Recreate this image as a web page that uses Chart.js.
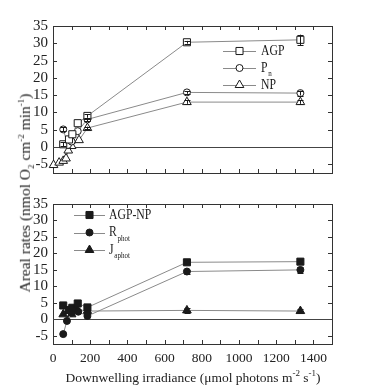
<!DOCTYPE html>
<html><head><meta charset="utf-8">
<script src="https://cdn.jsdelivr.net/npm/chart.js@4/dist/chart.umd.min.js"></script>
<style>
html,body{margin:0;padding:0;background:#fff;}
#wrap{position:relative;width:367px;height:386px;overflow:hidden;font-family:"Liberation Serif",serif;color:#222;}
.cv{position:absolute;left:0;}
#ytitle{position:absolute;left:26px;top:193px;transform:translate(-50%,-50%) rotate(-90deg);white-space:nowrap;font-size:15.5px;}
#xtitle{position:absolute;left:193px;top:377px;transform:translate(-50%,-50%);white-space:nowrap;font-size:13.5px;}
sub,sup{font-size:9px;}
</style></head>
<body>
<div id="wrap">
<canvas id="c1" class="cv" width="367" height="190" style="top:0"></canvas>
<canvas id="c2" class="cv" width="367" height="196" style="top:190px"></canvas>
<div id="ytitle">Areal rates (nmol O<sub>2</sub> cm<sup>-2</sup> min<sup>-1</sup>)</div>
<div id="xtitle">Downwelling irradiance (μmol photons m<sup>-2</sup> s<sup>-1</sup>)</div>
</div>
<script>
// ---- data ----
const xTickLabels = [0, 200, 400, 600, 800, 1000, 1200, 1400];
const xMinorTicks = [0,100,200,300,400,500,600,700,800,900,1000,1100,1200,1300,1400,1500];
const yTicks = [-5, 0, 5, 10, 15, 20, 25, 30, 35];

// top panel
const agpX = [55, 86, 104, 133, 185, 720, 1330];
const agpY = [0.8, 2.2, 3.7, 6.9, 9.0, 30.3, 31.0];
const agpErr = [0.6, 0, 0, 0, 0.5, 0.4, 1.5];
const pnX = [55, 80, 100, 133, 185, 720, 1330];
const pnY = [5.1, 0.6, 1.6, 4.6, 8.0, 15.8, 15.6];
const pnErr = [0.6, 0, 0, 0, 0.5, 0.4, 0.7];
const npX = [3, 33, 55, 70, 82, 100, 140, 185, 720, 1330];
const npY = [-5.2, -4.5, -4.0, -3.3, -1.0, 0.3, 2.0, 5.5, 13.0, 13.0];
const npErr = [0, 0, 0, 0, 0, 0, 0, 0.4, 0.5, 0.5];

// bottom panel
const agpnpX = [55, 85, 104, 133, 185, 720, 1330];
const agpnpY = [4.2, 2.8, 3.5, 4.8, 3.6, 17.3, 17.5];
const agpnpErr = [0, 0, 0, 0, 0, 0.4, 0.6];
const rphotX = [55, 75, 100, 136, 185, 720, 1330];
const rphotY = [-4.5, -0.5, 2.0, 2.3, 1.0, 14.5, 15.0];
const rphotErr = [0, 0, 0, 0, 0, 0.6, 1.0];
const japhotX = [55, 85, 100, 130, 185, 720, 1330];
const japhotY = [1.5, 2.6, 1.5, 3.0, 2.5, 2.7, 2.5];
const japhotErr = [0, 0, 0, 0, 0, 0.7, 0.5];

const FONT = "'Liberation Serif', 'Times New Roman', serif";
const INK = '#1a1a1a';
const LINE = '#8a8a8a';

function pts(xs, ys){ return xs.map((x,i)=>({x:x, y:ys[i]})); }
function ds(label, xs, ys, errs, style, filled, radius){
  return {label, data: pts(xs, ys), errors: errs, showLine:true, tension:0,
    borderColor: LINE, borderWidth: 1, pointStyle: style, pointRadius: radius,
    pointBackgroundColor: filled ? INK : '#fff', pointBorderColor: INK, pointBorderWidth: 1,
    clip: false, fill:false};
}

function drawMarker(ctx, style, x, y, r, filled){
  ctx.save();
  ctx.beginPath();
  if(style==='rect'){ const s=r*Math.SQRT1_2; ctx.rect(x-s,y-s,2*s,2*s); }
  else if(style==='circle'){ ctx.arc(x,y,r,0,Math.PI*2); }
  else if(style==='triangle'){ ctx.moveTo(x, y-r); ctx.lineTo(x+r*0.87, y+r*0.5); ctx.lineTo(x-r*0.87, y+r*0.5); ctx.closePath(); }
  ctx.fillStyle = filled ? INK : '#fff';
  ctx.fill();
  ctx.strokeStyle = INK; ctx.lineWidth = 1; ctx.stroke();
  ctx.restore();
}

const framePlugin = {
  id: 'frame',
  beforeDatasetsDraw(chart){
    const {ctx, chartArea: a, scales:{x, y}} = chart;
    ctx.save();
    ctx.strokeStyle = '#333'; ctx.lineWidth = 1;
    ctx.strokeRect(Math.round(a.left)+0.5, Math.round(a.top)+0.5, Math.round(a.right-a.left), Math.round(a.bottom-a.top));
    const L = 4;
    ctx.beginPath();
    xMinorTicks.forEach(v=>{
      const px = Math.round(x.getPixelForValue(v))+0.5;
      ctx.moveTo(px, a.bottom); ctx.lineTo(px, a.bottom-L);
      ctx.moveTo(px, a.top); ctx.lineTo(px, a.top+L);
    });
    yTicks.forEach(v=>{
      const py = Math.round(y.getPixelForValue(v))+0.5;
      ctx.moveTo(a.left, py); ctx.lineTo(a.left+L, py);
      ctx.moveTo(a.right, py); ctx.lineTo(a.right-L, py);
    });
    ctx.stroke();
    const z = Math.round(y.getPixelForValue(0))+0.5;
    ctx.strokeStyle = '#444';
    ctx.beginPath(); ctx.moveTo(a.left, z); ctx.lineTo(a.right, z); ctx.stroke();
    ctx.restore();
  },
  afterDatasetsDraw(chart){
    const {ctx, scales:{x, y}} = chart;
    ctx.save(); ctx.strokeStyle = INK; ctx.lineWidth = 1;
    chart.data.datasets.forEach(d=>{
      d.data.forEach((p,i)=>{
        const e = d.errors[i]; if(!e) return;
        const px = Math.round(x.getPixelForValue(p.x))+0.5;
        const y1 = y.getPixelForValue(p.y+e), y2 = y.getPixelForValue(p.y-e);
        ctx.beginPath();
        ctx.moveTo(px, y1); ctx.lineTo(px, y2);
        ctx.moveTo(px-3, Math.round(y1)+0.5); ctx.lineTo(px+3, Math.round(y1)+0.5);
        ctx.moveTo(px-3, Math.round(y2)+0.5); ctx.lineTo(px+3, Math.round(y2)+0.5);
        ctx.stroke();
      });
    });
    ctx.restore();
    const lg = chart.options.plugins.customLegend;
    if(!lg) return;
    ctx.save();
    lg.items.forEach((it, k)=>{
      const d = chart.data.datasets[k];
      const yy = lg.y0 + k*lg.dy;
      ctx.strokeStyle = LINE; ctx.lineWidth = 1;
      ctx.beginPath(); ctx.moveTo(lg.x0, Math.round(yy)+0.5); ctx.lineTo(lg.x1, Math.round(yy)+0.5); ctx.stroke();
      drawMarker(ctx, d.pointStyle, (lg.x0+lg.x1)/2, yy, d.pointRadius, d.pointBackgroundColor===INK);
      ctx.save();
      ctx.translate(lg.tx, yy);
      ctx.scale(0.78, 1);
      ctx.fillStyle = INK; ctx.textBaseline = 'middle'; ctx.textAlign = 'left';
      ctx.font = '15px ' + FONT;
      ctx.fillText(it.main, 0, 0);
      if(it.sub){
        const w = ctx.measureText(it.main).width;
        ctx.font = '9px ' + FONT;
        ctx.fillText(it.sub, w + 1, 6);
      }
      ctx.restore();
    });
    ctx.restore();
  }
};

function makeChart(id, datasets, opts){
  return new Chart(document.getElementById(id), {
    type: 'line',
    data: { datasets },
    plugins: [framePlugin],
    options: {
      responsive: false, animation: false, events: [],
      layout: { padding: { top: opts.padTop, right: 35, left: 0, bottom: 0 } },
      plugins: { legend: { display: false }, tooltip: { enabled: false }, customLegend: opts.legend },
      scales: {
        x: { type: 'linear', min: 0, max: 1500,
          grid: { display: false, drawTicks: false }, border: { display: false },
          afterBuildTicks: s => { s.ticks = xTickLabels.map(v=>({value:v})); },
          afterFit: s => { s.height = opts.xH; },
          ticks: { display: opts.showX, autoSkip: false, maxRotation: 0, padding: 6, color: '#222',
                   callback: v => String(v),
                   font: { family: FONT, size: 13.5 } } },
        y: { type: 'linear', min: -7.5, max: 35,
          grid: { display: false, drawTicks: false }, border: { display: false },
          afterBuildTicks: s => { s.ticks = yTicks.map(v=>({value:v})); },
          afterFit: s => { s.width = 53; },
          ticks: { padding: 5, autoSkip: false, color: '#222', callback: v => String(v),
                   font: { family: FONT, size: 15 } } }
      }
    }
  });
}

makeChart('c1', [
  ds('AGP', agpX, agpY, agpErr, 'rect', false, 5),
  ds('Pn', pnX, pnY, pnErr, 'circle', false, 3.5),
  ds('NP', npX, npY, npErr, 'triangle', false, 5)
], { padTop: 26, xH: 17, showX: false,
     legend: { x0: 223, x1: 256, tx: 261, y0: 51, dy: 17,
               items: [{main:'AGP'}, {main:'P', sub:'n'}, {main:'NP'}] } });

makeChart('c2', [
  ds('AGP-NP', agpnpX, agpnpY, agpnpErr, 'rect', true, 5),
  ds('Rphot', rphotX, rphotY, rphotErr, 'circle', true, 3.5),
  ds('Japhot', japhotX, japhotY, japhotErr, 'triangle', true, 5)
], { padTop: 7, xH: 42, showX: true,
     legend: { x0: 74, x1: 105, tx: 109, y0: 25, dy: 17.5,
               items: [{main:'AGP-NP'}, {main:'R', sub:'phot'}, {main:'J', sub:'aphot'}] } });
</script>
</body></html>
